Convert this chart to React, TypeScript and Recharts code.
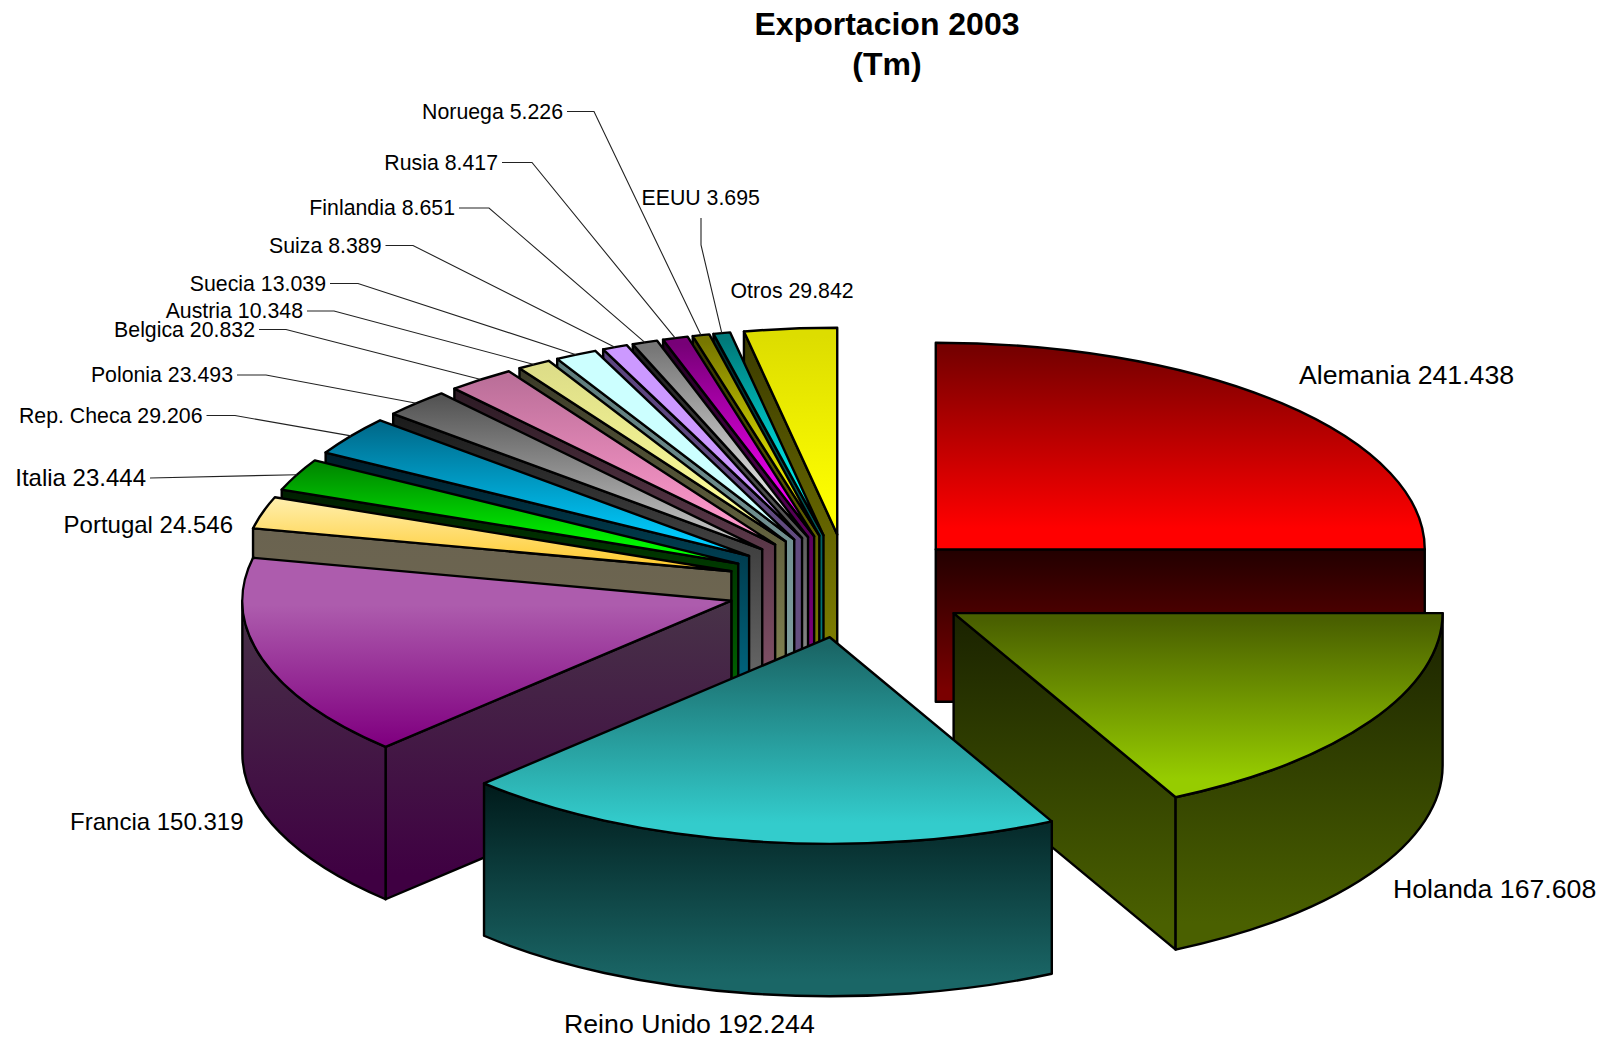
import React from 'react';
import { PieChart, Pie } from 'recharts';

// clockwise from 12 o'clock, as in the original
const countries = ['Alemania', 'Holanda', 'Reino Unido', 'Francia', 'Portugal', 'Italia', 'Rep. Checa', 'Polonia', 'Belgica', 'Austria', 'Suecia', 'Suiza', 'Finlandia', 'Rusia', 'Noruega', 'EEUU', 'Otros'];
const tonnes = [241438, 167608, 192244, 150319, 24546, 23444, 29206, 23493, 20832, 10348, 13039, 8389, 8651, 8417, 5226, 3695, 29842];

const titleLines = ['Exportacion 2003', '(Tm)'];

// top face from/to, side face from/to
const paint: Record<string, string[]> = {
  Alemania: ['#770000', '#ff0000', '#220000', '#7a0000'],
  Holanda: ['#4a6000', '#96cc00', '#1a2200', '#4a6000'],
  'Reino Unido': ['#1a6666', '#33cccc', '#001a1a', '#1a6666'],
  Francia: ['#ad5cad', '#800080', '#483348', '#3f0042'],
  Portugal: ['#ffeeaa', '#ffcc33', '#6a6350', '#706850'],
  Italia: ['#008800', '#00ff00', '#001e00', '#006600'],
  'Rep. Checa': ['#006b8c', '#00ccff', '#001c28', '#006680'],
  Polonia: ['#555555', '#c0c0c0', '#1a1a1a', '#666666'],
  Belgica: ['#bb6f99', '#ff99cc', '#2c1a24', '#805066'],
  Austria: ['#dddd88', '#ffff99', '#3a3a28', '#808050'],
  Suecia: ['#ccffff', '#ccffff', '#5d7b7b', '#80a0a0'],
  Suiza: ['#cc99ff', '#cc99ff', '#5b4480', '#665080'],
  Finlandia: ['#777777', '#eeeeee', '#1a1a1a', '#888888'],
  Rusia: ['#770077', '#ff00ff', '#220022', '#800080'],
  Noruega: ['#777700', '#ffff00', '#333300', '#808000'],
  EEUU: ['#007a7a', '#00ffff', '#002a2a', '#007f7f'],
  Otros: ['#dddd00', '#ffff00', '#3a3a00', '#808000'],
};

// text place for each label, elbow is the leader line's bend
const labelSpots: Record<string, any> = {
  Alemania: { x: 1299, y: 374.5, size: 26.7, anchor: 'start' },
  Holanda: { x: 1393, y: 889, size: 26.7, anchor: 'start' },
  'Reino Unido': { x: 564, y: 1024, size: 26.7, anchor: 'start' },
  Francia: { x: 243.5, y: 821.5, size: 24, anchor: 'end' },
  Portugal: { x: 233, y: 525, size: 24, anchor: 'end' },
  Italia: { x: 146, y: 478, size: 24, anchor: 'end', elbow: 150 },
  'Rep. Checa': { x: 202.5, y: 415.5, size: 21.3, anchor: 'end', elbow: 235 },
  Polonia: { x: 233, y: 375, size: 21.3, anchor: 'end', elbow: 266 },
  Belgica: { x: 255, y: 329.5, size: 21.3, anchor: 'end', elbow: 286 },
  Austria: { x: 303, y: 311, size: 21.3, anchor: 'end', elbow: 334 },
  Suecia: { x: 326, y: 283.5, size: 21.3, anchor: 'end', elbow: 358 },
  Suiza: { x: 381.5, y: 245.5, size: 21.3, anchor: 'end', elbow: 413 },
  Finlandia: { x: 455, y: 208, size: 21.3, anchor: 'end', elbow: 489 },
  Rusia: { x: 498, y: 162.5, size: 21.3, anchor: 'end', elbow: 532 },
  Noruega: { x: 563, y: 111.5, size: 21.3, anchor: 'end', elbow: 594 },
  EEUU: { x: 641.5, y: 197.5, size: 21.3, anchor: 'start', drop: [701, 218, 245] },
  Otros: { x: 730.5, y: 290.5, size: 21.3, anchor: 'start' },
};

const CX = 849;
const CY = 586;
const RADIUS = 489;
const TILT = 0.4226;
const DEPTH = 152.4;
const EXPLODE = 122.7;
const FONT = '"Liberation Sans", Arial, sans-serif';

// Pie draws in data order, so feed it back to front (counter-clockwise)
const sliceData = countries.map((name, i) => ({ name, value: tonnes[i] })).reverse();

const rad = (a: number) => (a * Math.PI) / 180;

const drawSlice = (only: string[] | null, skip: string[]) => (props: any) => {
  const name = props.name ?? props.payload?.name;
  if ((only && !only.includes(name)) || skip.includes(name)) return <g />;
  // the original snaps slice edges to whole degrees
  const a0 = Math.round(Math.min(props.startAngle, props.endAngle));
  const a1 = Math.round(Math.max(props.startAngle, props.endAngle));
  const mid = rad((a0 + a1) / 2);
  const r = props.outerRadius;
  const ax = props.cx + EXPLODE * Math.cos(mid);
  const ay = props.cy - EXPLODE * TILT * Math.sin(mid);
  const pt = (a: number) => [ax + r * Math.cos(rad(a)), ay - r * TILT * Math.sin(rad(a))];
  const [sx, sy] = pt(a0);
  const [ex, ey] = pt(a1);
  const big = a1 - a0 > 180 ? 1 : 0;
  const id = name.replace(/[^a-zA-Z]/g, '');
  const [topFrom, topTo, sideFrom, sideTo] = paint[name];

  const topFace = `M${ax},${ay}L${sx},${sy}A${r},${r * TILT} 0 ${big} 0 ${ex},${ey}Z`;
  const cut = (x: number, y: number) => `M${ax},${ay}L${x},${y}L${x},${y + DEPTH}L${ax},${ay + DEPTH}Z`;

  const faces: string[] = [];
  const ys: number[] = [];
  if (Math.cos(rad(a0)) > 1e-6) {
    faces.push(cut(sx, sy));
    ys.push(ay, sy);
  }
  if (Math.cos(rad(a1)) < -1e-6) {
    faces.push(cut(ex, ey));
    ys.push(ay, ey);
  }
  const lo = Math.max(a0, 180);
  const hi = Math.min(a1, 360);
  if (hi > lo) {
    const [lx, ly] = pt(lo);
    const [hx, hy] = pt(hi);
    faces.push(`M${lx},${ly}A${r},${r * TILT} 0 0 0 ${hx},${hy}L${hx},${hy + DEPTH}A${r},${r * TILT} 0 0 1 ${lx},${ly + DEPTH}Z`);
    ys.push(ly, hy);
    if (lo <= 270 && hi >= 270) ys.push(ay + r * TILT);
  }
  const sideTop = ys.length ? Math.min(...ys) : ay;
  const sideBottom = (ys.length ? Math.max(...ys) : ay) + DEPTH;

  return (
    <g>
      <defs>
        <linearGradient id={`top${id}`} x1="0" y1="0" x2="0" y2="1">
          <stop offset={name === 'Francia' ? 0.25 : 0.04} stopColor={topFrom} />
          <stop offset={name === 'Francia' ? 0.98 : 0.9} stopColor={topTo} />
        </linearGradient>
        <linearGradient id={`side${id}`} gradientUnits="userSpaceOnUse" x1="0" y1={sideTop} x2="0" y2={sideBottom}>
          <stop offset="0" stopColor={sideFrom} />
          <stop offset="0.92" stopColor={sideTo} />
        </linearGradient>
      </defs>
      {faces.map((d, i) => (
        <path key={i} d={d} fill={`url(#side${id})`} stroke="#000" strokeWidth={2.4} strokeLinejoin="round" />
      ))}
      <path d={topFace} fill={`url(#top${id})`} stroke="#000" strokeWidth={2.4} strokeLinejoin="round" />
    </g>
  );
};

const drawLabel = (props: any) => {
  const name = props.name ?? props.payload?.name;
  const value = props.value ?? props.payload?.value;
  const spot = labelSpots[name];
  const mid = rad((Math.round(props.startAngle) + Math.round(props.endAngle)) / 2);
  const reach = props.outerRadius + EXPLODE;
  const tipX = props.cx + reach * Math.cos(mid);
  const tipY = props.cy - reach * TILT * Math.sin(mid);
  let line = '';
  if (spot.elbow) line = `${spot.x + 4},${spot.y} ${spot.elbow},${spot.y} ${tipX},${tipY}`;
  if (spot.drop) line = `${spot.drop[0]},${spot.drop[1]} ${spot.drop[0]},${spot.drop[2]} ${tipX},${tipY}`;
  const shown = String(value).replace(/(\d{3})$/, '.$1');
  return (
    <g>
      {line && <polyline points={line} fill="none" stroke="#222" strokeWidth={1.1} />}
      <text x={spot.x} y={spot.y} dy="0.35em" textAnchor={spot.anchor} fontSize={spot.size} fontFamily={FONT} fill="#000">
        {`${name} ${shown}`}
      </text>
    </g>
  );
};

export default function App() {
  const commonPie = {
    data: sliceData,
    dataKey: 'value',
    nameKey: 'name',
    cx: CX,
    cy: CY,
    outerRadius: RADIUS,
    startAngle: 90,
    endAngle: 450,
    isAnimationActive: false,
    labelLine: false,
  };
  return (
    <div style={{ position: 'absolute', left: 0, top: 0, width: 1604, height: 1041, background: '#fff' }}>
      <PieChart width={1604} height={1041} margin={{ top: 0, right: 0, bottom: 0, left: 0 }}>
        <Pie {...commonPie} shape={drawSlice(null, ['Holanda', 'Reino Unido'])} />
        <Pie {...commonPie} shape={drawSlice(['Holanda'], [])} />
        <Pie {...commonPie} shape={drawSlice(['Reino Unido'], [])} />
        <Pie {...commonPie} shape={() => <g />} label={drawLabel} />
        {titleLines.map((t, i) => (
          <text key={t} x={887} y={35 + i * 39.5} textAnchor="middle" fontSize={32} fontWeight="bold" fontFamily={FONT} fill="#000">
            {t}
          </text>
        ))}
      </PieChart>
    </div>
  );
}
